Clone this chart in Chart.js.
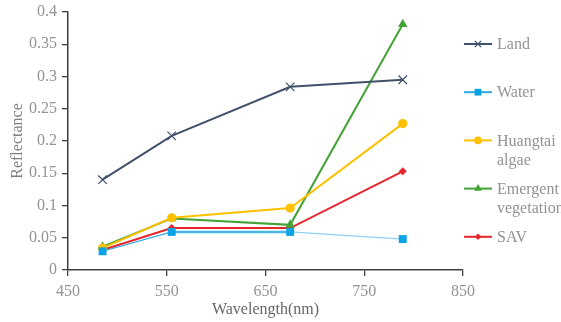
<!DOCTYPE html>
<html>
<head>
<meta charset="utf-8">
<script src="https://cdn.jsdelivr.net/npm/chart.js@4/dist/chart.umd.min.js"></script>
<style>
  html, body { margin: 0; padding: 0; background: #fff; }
  canvas { display: block; }
</style>
</head>
<body>
<canvas id="c" width="561" height="322"></canvas>
<script>
// Band centres (nm) and mean reflectance per cover type
const wavelengths = [485, 555, 675, 789];
const land        = [0.140, 0.208, 0.284, 0.295];
const water       = [0.029, 0.059, 0.059, 0.048];
const huangtai    = [0.034, 0.081, 0.096, 0.227];
const emergent    = [0.036, 0.080, 0.070, 0.381];
const sav         = [0.031, 0.065, 0.065, 0.153];

const seriesNames = ['Land', 'Water', ['Huangtai', 'algae'], ['Emergent', 'vegetation'], 'SAV'];
const xTicks = [450, 550, 650, 750, 850];
const yTicks = [0, 0.05, 0.1, 0.15, 0.2, 0.25, 0.3, 0.35, 0.4];

const FONT = '"Liberation Serif", "Times New Roman", serif';
const LABEL_GREY = '#939393';

function pts(values) {
  return values.map((v, i) => ({ x: wavelengths[i], y: v }));
}

const datasets = [
  { data: pts(land), borderColor: '#42516a', backgroundColor: '#42516a',
    borderWidth: 2, pointStyle: 'crossRot', pointRadius: 6, pointBorderWidth: 1.2, legendRadius: 4.5 },
  { data: pts(water), borderColor: '#2fa8e4', backgroundColor: '#0aa3e6',
    borderWidth: 1.2, pointStyle: 'rect', pointRadius: 5.6, pointBorderWidth: 0, legendRadius: 4.8,
    segment: {
      borderColor: ctx => ctx.p0DataIndex === 2 ? '#8fd0f0' : (ctx.p0DataIndex === 1 ? '#49b6ea' : '#2fa8e4'),
      borderWidth: ctx => ctx.p0DataIndex === 1 ? 2.5 : 1.2
    } },
  { data: pts(huangtai), borderColor: '#ffc000', backgroundColor: '#ffc000',
    borderWidth: 2, pointStyle: 'circle', pointRadius: 4.6, pointBorderWidth: 0, legendRadius: 3.8 },
  { data: pts(emergent), borderColor: '#44a336', backgroundColor: '#44a336',
    borderWidth: 2, pointStyle: 'triangle', pointRadius: 5.5, pointBorderWidth: 0, legendRadius: 4.5 },
  { data: pts(sav), borderColor: '#e5262b', backgroundColor: '#e5262b',
    borderWidth: 2, pointStyle: 'rectRot', pointRadius: 4, pointBorderWidth: 0, legendRadius: 3.3 }
];
datasets.forEach((d, i) => { d.label = seriesNames[i]; d.tension = 0; d.fill = false; });

// Legend drawn to the right of the plot: a short line with the series marker, then the name
const sideLegend = {
  id: 'sideLegend',
  afterDraw(chart) {
    const ctx = chart.ctx;
    const area = chart.chartArea;
    const x0 = area.right + 1, x1 = area.right + 29, tx = area.right + 34;
    ctx.save();
    chart.data.datasets.forEach((ds, i) => {
      const y = area.top + 32 + i * 48.2;
      ctx.strokeStyle = ds.borderColor;
      ctx.lineWidth = 2;
      ctx.beginPath();
      ctx.moveTo(x0, y);
      ctx.lineTo(x1, y);
      ctx.stroke();
      ctx.fillStyle = ds.backgroundColor;
      ctx.strokeStyle = ds.borderColor;
      ctx.lineWidth = ds.pointBorderWidth || 0.001;
      Chart.helpers.drawPoint(ctx, { pointStyle: ds.pointStyle, radius: ds.legendRadius, rotation: 0, borderWidth: ds.pointBorderWidth }, (x0 + x1) / 2, y);
      ctx.fillStyle = LABEL_GREY;
      ctx.font = '16px ' + FONT;
      ctx.textAlign = 'left';
      ctx.textBaseline = 'middle';
      const lines = Array.isArray(ds.label) ? ds.label : [ds.label];
      lines.forEach((t, k) => ctx.fillText(t, tx, y + 1 + k * 19.5));
    });
    ctx.restore();
  }
};

new Chart(document.getElementById('c'), {
  type: 'line',
  data: { datasets },
  options: {
    responsive: false,
    animation: false,
    devicePixelRatio: 1,
    layout: { padding: { left: 0, right: 98, top: 12, bottom: 0 } },
    plugins: { legend: { display: false }, tooltip: { enabled: false } },
    scales: {
      x: {
        type: 'linear', min: 450, max: 850,
        afterBuildTicks: s => { s.ticks = xTicks.map(v => ({ value: v })); },
        afterFit: s => { s.height = 52; s.paddingLeft = 0; s.paddingRight = 0; },
        grid: { display: true, drawOnChartArea: false, drawTicks: true, tickLength: 6, color: '#404040', lineWidth: 1.3 },
        border: { display: true, color: '#404040', width: 1.5 },
        ticks: { color: LABEL_GREY, font: { family: FONT, size: 16 }, padding: 6, maxRotation: 0,
                 callback: v => String(v) },
        title: { display: true, text: 'Wavelength(nm)', color: '#666666',
                 font: { family: FONT, size: 16 }, padding: { top: 0, bottom: 3 } }
      },
      y: {
        type: 'linear', min: 0, max: 0.4,
        afterBuildTicks: s => { s.ticks = yTicks.map(v => ({ value: v })); },
        afterFit: s => { s.width = 68; s.paddingTop = 0; s.paddingBottom = 0; },
        grid: { display: true, drawOnChartArea: false, drawTicks: true, tickLength: 6, color: '#404040', lineWidth: 1.3 },
        border: { display: true, color: '#404040', width: 1.5 },
        ticks: { color: LABEL_GREY, font: { family: FONT, size: 16 }, padding: 5,
                 callback: v => String(parseFloat(v.toFixed(2))) },
        title: { display: true, text: 'Reflectance', color: '#808080',
                 font: { family: FONT, size: 16 }, padding: { top: 8, bottom: 0 } }
      }
    }
  },
  plugins: [sideLegend]
});
</script>
</body>
</html>
